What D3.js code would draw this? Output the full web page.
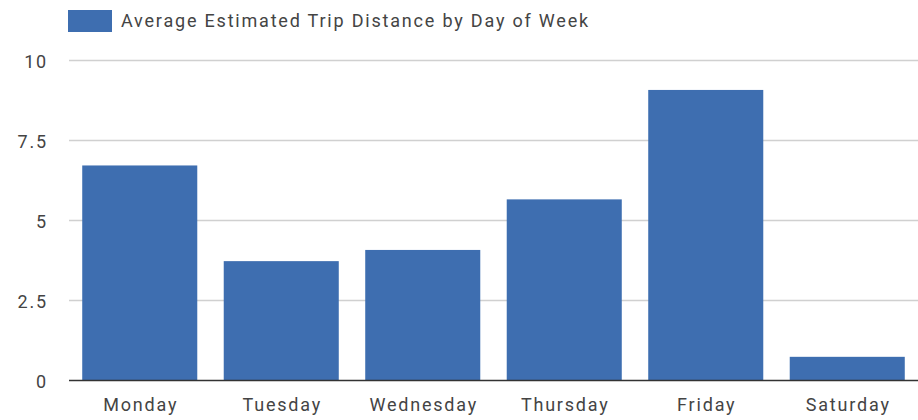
<!DOCTYPE html>
<html><head><meta charset="utf-8">
<script src="https://cdn.jsdelivr.net/npm/d3@7/dist/d3.min.js"></script>
<style>body{margin:0;background:#fff}svg{display:block}text{font-family:Roboto,"Noto Sans",sans-serif}</style>
</head><body><svg id="c" width="918" height="420"></svg>
<script>
const days = ["Monday","Tuesday","Wednesday","Thursday","Friday","Saturday"];
const values = [6.72, 3.73, 4.08, 5.66, 9.08, 0.74];
const yTicks = [0, 2.5, 5, 7.5, 10];
const yTickLabels = ["0","2.5","5","7.5","10"];
const seriesName = "Average Estimated Trip Distance by Day of Week";

const svg = d3.select("#c");
const x = d3.scaleBand().domain(days).range([69, 918]).paddingInner(0.187).paddingOuter(0.0935);
const y = d3.scaleLinear().domain([0, 10]).range([380.5, 60.5]);

// gridlines
svg.append("g").selectAll("line").data(yTicks.filter(d => d > 0)).join("line")
  .attr("x1", 69).attr("x2", 918).attr("y1", d => y(d)).attr("y2", d => y(d))
  .attr("stroke", "#d0d0d0").attr("stroke-width", 1.6);

// y labels
svg.append("g").selectAll("text").data(yTicks).join("text")
  .attr("x", 48).attr("y", d => y(d) + 7).attr("text-anchor", "end")
  .attr("font-size", 18).attr("letter-spacing", 1.8).attr("fill", "#444").text((d, i) => yTickLabels[i]);

// bars
svg.append("g").selectAll("rect").data(values).join("rect")
  .attr("x", (d, i) => x(days[i])).attr("width", x.bandwidth())
  .attr("y", d => y(d)).attr("height", d => y(0) - y(d))
  .attr("fill", "#3e6eb0");

// baseline
svg.append("line").attr("x1", 69).attr("x2", 918).attr("y1", y(0)).attr("y2", y(0))
  .attr("stroke", "#333").attr("stroke-width", 1.6);

// x labels
svg.append("g").selectAll("text").data(days).join("text")
  .attr("x", d => x(d) + x.bandwidth() / 2 + 1).attr("y", 411).attr("text-anchor", "middle")
  .attr("font-size", 18).attr("letter-spacing", 1.8).attr("fill", "#444").text(d => d);

// legend
svg.append("rect").attr("x", 68).attr("y", 10).attr("width", 44).attr("height", 22).attr("fill", "#3e6eb0");
svg.append("text").attr("x", 121).attr("y", 27).attr("font-size", 18).attr("letter-spacing", 1.8).attr("fill", "#444").text(seriesName);
</script></body></html>
